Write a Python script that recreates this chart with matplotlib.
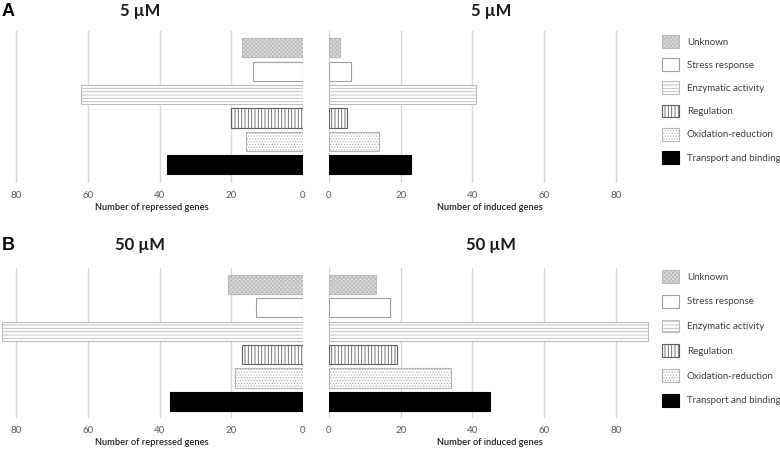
import matplotlib
matplotlib.use("Agg")
import matplotlib.pyplot as plt
from matplotlib.patches import Patch
import numpy as np

plt.rcParams['font.family'] = ['Lato', 'DejaVu Sans']
plt.rcParams['hatch.linewidth'] = 0.6

categories = ["Unknown", "Stress response", "Enzymatic activity",
              "Regulation", "Oxidation-reduction", "Transport and binding"]

# values (order as categories)
repressed_5 = [17, 14, 62, 20, 16, 38]
induced_5 = [3, 6, 41, 5, 14, 23]
repressed_50 = [21, 13, 84, 17, 19, 37]
induced_50 = [13, 17, 89, 19, 34, 45]

ticks = [0, 20, 40, 60, 80]

# style per category: facecolor, edgecolor, hatch
styles = [
    ("#dedede", "#bababa", "xxxxxxxx"),
    ("white", "#a0a0a0", None),
    ("white", "#bcbcbc", "-----"),
    ("white", "#606060", "|||||"),
    ("white", "#b4b4b4", "......"),
    ("black", "black", None),
]

W, H = 780, 451
PX_PER_UNIT = 3.585

fig = plt.figure(figsize=(W / 100, H / 100), dpi=100)


def add_ax(x0, x1, y0, y1):
    return fig.add_axes([x0 / W, 1 - y1 / H, (x1 - x0) / W, (y1 - y0) / H])


def draw_panel(ax, values, xlabel, ylim):
    y = np.arange(len(categories))[::-1]
    for yi, v, (fc, ec, hatch) in zip(y, values, styles):
        ax.barh(yi, v, height=0.82, color=fc, edgecolor=ec, hatch=hatch,
                linewidth=0.8, zorder=3)
    ax.set_ylim(*ylim)
    ax.set_xticks(ticks)
    ax.set_yticks([])
    ax.grid(axis='x', color='#d9d9d9', linewidth=1.0, zorder=0)
    for s in ax.spines.values():
        s.set_visible(False)
    ax.tick_params(axis='x', length=0, pad=6, labelsize=7, labelcolor='#595959')
    ax.set_xlabel(xlabel, fontsize=6.7, color='#1f1f1f', labelpad=2,
                  fontweight='semibold')


def draw_row(rep, ind, y0, y1, ylim, title, letter, ytitle):
    axl = add_ax(0, 303, y0, y1)
    axl.set_xlim(303 / PX_PER_UNIT, 0)
    draw_panel(axl, rep, "Number of repressed genes", ylim)
    axr = add_ax(329, 650, y0, y1)
    axr.set_xlim(0, (650 - 329) / PX_PER_UNIT)
    draw_panel(axr, ind, "Number of induced genes", ylim)
    fig.text(140 / W, 1 - ytitle / H, title, fontsize=12, fontweight='bold',
             ha='center', va='center', color='#1a1a1a')
    fig.text(491 / W, 1 - ytitle / H, title, fontsize=12, fontweight='bold',
             ha='center', va='center', color='#1a1a1a')
    fig.text(2 / W, 1 - ytitle / H, letter, fontsize=13, fontweight='bold',
             ha='left', va='center', family='Liberation Sans')
    handles = [Patch(facecolor=fc, edgecolor=ec, hatch=h, linewidth=0.8)
               for fc, ec, h in styles]
    return handles


h1 = draw_row(repressed_5, induced_5, 31, 183, (-0.78, 5.72), "5 µM", "A", 11)
fig.legend(h1, categories, loc='upper left', bbox_to_anchor=(662 / W, 1 - 35 / H),
           frameon=False, fontsize=7, handlelength=1.75, handleheight=1.65,
           labelspacing=1.07, handletextpad=0.8, labelcolor='#404040',
           borderaxespad=0, borderpad=0)

h2 = draw_row(repressed_50, induced_50, 268, 418, (-0.7, 5.69), "50 µM", "B", 245)
fig.legend(h2, categories, loc='upper left', bbox_to_anchor=(662 / W, 1 - 270 / H),
           frameon=False, fontsize=7, handlelength=1.75, handleheight=1.65,
           labelspacing=1.23, handletextpad=0.8, labelcolor='#404040',
           borderaxespad=0, borderpad=0)

fig.savefig("out.png", dpi=100)
